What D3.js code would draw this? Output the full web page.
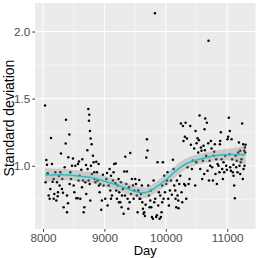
<!DOCTYPE html>
<html>
<head>
<meta charset="utf-8">
<script src="https://cdn.jsdelivr.net/npm/d3@7"></script>
<style>
  body { margin: 0; background: #fff; }
  svg { display: block; }
</style>
</head>
<body>
<figure style="margin:0"></figure>
<script>
const width = 258
const height = 258
const panel = { left: 35, right: 255.5, top: 3, bottom: 229 }

// points (day, standard deviation)
const days = [
  8033, 8054, 8065, 8043, 8076, 8092, 8109, 8130, 8146, 8157, 8174, 8184, 8201, 8217, 8228, 8244, 8260, 8271, 8282, 8293,
  8309, 8326, 8336, 8353, 8369, 8374, 8391, 8407, 8412, 8429, 8434, 8445, 8456, 8472, 8488, 8391, 8315, 8174, 8239, 8119,
  8499, 8510, 8526, 8543, 8564, 8570, 8586, 8597, 8608, 8624, 8640, 8651, 8662, 8673, 8689, 8700, 8722, 8738, 8749, 8754,
  8765, 8776, 8792, 8814, 8727, 8743, 8760, 8781, 8797, 8825, 8841, 8852, 8868, 8879, 8890, 8906, 8922, 8933, 8949, 8960,
  8977, 8987, 8635, 8705, 8580, 8835, 8911, 8770,
  9014, 9031, 9042, 9052, 9069, 9085, 9096, 9107, 9123, 9139, 9150, 9161, 9177, 9183, 9194, 9204, 9215, 9231, 9242, 9259,
  9269, 9286, 9302, 9313, 9324, 9340, 9356, 9367, 9378, 9389, 9400, 9421, 9432, 9448, 9465, 9476, 9486, 9237, 9280, 9107,
  9335, 9411,
  9503, 9514, 9530, 9541, 9552, 9568, 9584, 9595, 9611, 9628, 9638, 9649, 9660, 9671, 9682, 9693, 9703, 9714, 9725, 9736,
  9747, 9758, 9774, 9790, 9801, 9812, 9828, 9844, 9855, 9866, 9877, 9888, 9899, 9910, 9920, 9931, 9942, 9953, 9964, 9975,
  9986, 9823, 9573, 9617, 9763, 9942,
  10007, 10018, 10029, 10040, 10051, 10067, 10083, 10099, 10116, 10127, 10137, 10154, 10170, 10181, 10192, 10208, 10219,
  10235, 10246, 10257, 10268, 10279, 10289, 10300, 10311, 10322, 10333, 10344, 10354, 10371, 10387, 10398, 10409, 10425,
  10441, 10463, 10479, 10485, 10159, 10203, 10317, 10496,
  10501, 10517, 10528, 10539, 10550, 10561, 10572, 10582, 10593, 10615, 10631, 10637, 10642, 10658, 10669, 10680, 10691,
  10696, 10713, 10723, 10734, 10745, 10756, 10767, 10778, 10788, 10799, 10810, 10821, 10832, 10843, 10859, 10875, 10881,
  10886, 10897, 10908, 10919, 10930, 10940, 10951, 10967, 10984, 10995, 10626, 10604, 10702,
  11005, 11016, 11027, 11043, 11049, 11060, 11071, 11081, 11092, 11103, 11114, 11125, 11136, 11147, 11157, 11168, 11179,
  11190, 11201, 11212, 11222, 11233, 11244, 11255, 11260, 11266, 11277, 11288, 11298, 11293, 11282, 11103, 11038, 11212
]
const values = [
  1.449, 1.042, 1.007, 0.877, 0.943, 0.778, 0.753, 1.207, 1.012, 0.881, 0.753, 0.790, 0.951, 0.741, 0.877, 0.802, 0.926, 0.852, 0.951, 1.091,
  0.827, 0.798, 0.691, 0.988, 1.165, 1.343, 0.654, 0.721, 1.064, 1.232, 0.864, 0.951, 0.901, 1.000, 1.054, 0.778, 0.901, 0.901, 0.773, 0.827,
  0.852, 0.802, 1.000, 0.758, 0.758, 1.012, 1.032, 0.926, 0.753, 0.970, 1.049, 0.889, 0.654, 0.691, 0.877, 1.005, 1.116, 1.422, 1.336, 1.380,
  1.259, 1.202, 1.160, 1.074, 0.975, 0.889, 0.864, 1.000, 0.938, 1.025, 0.901, 0.877, 1.030, 0.951, 0.889, 1.012, 0.802, 0.864, 0.672, 0.741,
  0.933, 0.852, 0.840, 0.790, 0.889, 0.951, 0.852, 0.741,
  0.753, 0.901, 0.946, 0.704, 0.852, 0.975, 0.815, 0.926, 0.778, 0.889, 0.951, 1.012, 0.869, 1.017, 0.815, 0.753, 0.852, 0.901, 0.802, 0.728,
  0.877, 0.778, 0.827, 0.642, 0.956, 1.067, 0.864, 0.956, 0.753, 0.679, 0.840, 1.094, 0.790, 0.901, 0.852, 0.753, 0.815, 0.728, 0.691, 0.753,
  0.778, 0.728,
  0.901, 0.864, 0.778, 0.654, 0.815, 0.894, 0.753, 0.790, 0.852, 0.679, 0.642, 0.654, 0.625, 0.709, 1.062, 1.198, 1.114, 0.852, 0.778, 0.691,
  0.741, 0.815, 0.617, 0.605, 0.889, 0.728, 0.753, 0.617, 0.630, 1.025, 0.704, 0.802, 0.605, 0.778, 0.617, 0.654, 0.728, 1.025, 0.753, 0.926,
  0.802, 2.136, 0.753, 0.728, 0.691, 0.852,
  0.864, 0.889, 0.951, 0.753, 0.704, 0.815, 0.889, 0.783, 1.044, 0.975, 0.852, 0.815, 0.691, 0.889, 0.778, 0.684, 0.864,
  0.926, 1.314, 0.802, 0.728, 1.296, 1.185, 0.864, 1.215, 1.321, 0.753, 1.202, 0.988, 0.864, 0.901, 1.296, 1.156, 0.975,
  1.037, 1.128, 0.852, 1.259, 0.753, 0.741, 0.852, 1.025,
  1.168, 1.205, 1.099, 1.190, 1.375, 0.975, 1.136, 1.111, 0.901, 1.148, 1.272, 1.116, 1.351, 1.074, 1.321, 0.963, 1.168,
  1.931, 1.037, 1.000, 1.185, 1.128, 0.988, 0.889, 1.074, 1.104, 1.160, 0.938, 1.049, 0.864, 1.012, 1.000, 0.951, 1.160,
  1.185, 1.249, 1.049, 0.975, 0.901, 1.025, 0.951, 1.074, 1.000, 0.970, 0.938, 1.037, 0.889,
  1.198, 1.215, 1.358, 1.259, 0.988, 0.963, 1.198, 1.049, 0.951, 1.007, 0.852, 0.758, 1.074, 0.988, 1.037, 0.951, 1.099,
  1.173, 1.000, 0.938, 1.025, 1.049, 1.314, 0.901, 1.160, 0.975, 1.111, 1.136, 1.156, 1.099, 1.000, 0.926, 1.086, 1.111
]

// smoothed trend and its confidence half-width
const smoothDays = [8033, 8336, 8499, 8716, 8879, 9150, 9421, 9584, 9693, 9801, 10018, 10235, 10452, 10669, 10886, 11103, 11298]
const smoothValues = [0.931, 0.933, 0.928, 0.916, 0.901, 0.864, 0.822, 0.800, 0.802, 0.827, 0.901, 0.988, 1.037, 1.062, 1.079, 1.084, 1.081]
const smoothSe = [0.05, 0.042, 0.04, 0.04, 0.04, 0.04, 0.04, 0.04, 0.04, 0.04, 0.042, 0.042, 0.04, 0.038, 0.04, 0.048, 0.07]

const xTicks = [8000, 9000, 10000, 11000]
const xMinor = [8500, 9500, 10500, 11500]
const yTicks = [1.0, 1.5, 2.0]
const yMinor = [0.75, 1.25, 1.75]

const points = days.map((d, i) => ({ day: d, sd: values[i] }))
const smooth = smoothDays.map((d, i) => ({ day: d, sd: smoothValues[i], se: smoothSe[i] }))

// ggplot style 5% expansion
const expand = ([a, b]) => [a - (b - a) * 0.05, b + (b - a) * 0.05]

const x = d3.scaleLinear()
  .domain(expand(d3.extent(days)))
  .range([panel.left, panel.right])
const y = d3.scaleLinear()
  .domain(expand(d3.extent(values)))
  .range([panel.bottom, panel.top])

const svg = d3.select('figure').append('svg')
  .attr('width', width)
  .attr('height', height)
  .style('font-family', '"Liberation Sans", Arial, sans-serif')

svg.append('rect')
  .attr('x', panel.left)
  .attr('y', panel.top)
  .attr('width', panel.right - panel.left)
  .attr('height', panel.bottom - panel.top)
  .attr('fill', '#EBEBEB')

const grid = svg.append('g')
const inX = v => x(v) >= panel.left && x(v) <= panel.right

grid.selectAll('.xminor')
  .data(xMinor.filter(inX))
  .join('line')
  .attr('x1', d => x(d)).attr('x2', d => x(d))
  .attr('y1', panel.top).attr('y2', panel.bottom)
  .attr('stroke', '#fff').attr('stroke-width', 0.5)

grid.selectAll('.yminor')
  .data(yMinor)
  .join('line')
  .attr('y1', d => y(d)).attr('y2', d => y(d))
  .attr('x1', panel.left).attr('x2', panel.right)
  .attr('stroke', '#fff').attr('stroke-width', 0.5)

grid.selectAll('.xmajor')
  .data(xTicks)
  .join('line')
  .attr('x1', d => x(d)).attr('x2', d => x(d))
  .attr('y1', panel.top).attr('y2', panel.bottom)
  .attr('stroke', '#fff').attr('stroke-width', 1)

grid.selectAll('.ymajor')
  .data(yTicks)
  .join('line')
  .attr('y1', d => y(d)).attr('y2', d => y(d))
  .attr('x1', panel.left).attr('x2', panel.right)
  .attr('stroke', '#fff').attr('stroke-width', 1)

// points
svg.append('g')
  .selectAll('circle')
  .data(points)
  .join('circle')
  .attr('cx', d => x(d.day))
  .attr('cy', d => y(d.sd))
  .attr('r', 1.25)
  .attr('fill', '#000')

// confidence band + trend line
svg.append('path')
  .datum(smooth)
  .attr('fill', '#999999')
  .attr('fill-opacity', 0.4)
  .attr('d', d3.area()
    .curve(d3.curveNatural)
    .x(d => x(d.day))
    .y0(d => y(d.sd - d.se))
    .y1(d => y(d.sd + d.se)))

svg.append('path')
  .datum(smooth)
  .attr('fill', 'none')
  .attr('stroke', '#22C1C6')
  .attr('stroke-width', 1.5)
  .attr('d', d3.line()
    .curve(d3.curveNatural)
    .x(d => x(d.day))
    .y(d => y(d.sd)))

// axes
const xAxis = svg.append('g')
  .attr('transform', `translate(0,${panel.bottom})`)
  .call(d3.axisBottom(x).tickValues(xTicks).tickSize(2.7).tickPadding(2).tickFormat(d3.format('d')))
const yAxis = svg.append('g')
  .attr('transform', `translate(${panel.left},0)`)
  .call(d3.axisLeft(y).tickValues(yTicks).tickSize(2.7).tickPadding(2).tickFormat(d3.format('.1f')))

for (const ax of [xAxis, yAxis]) {
  ax.select('.domain').remove()
  ax.selectAll('line').attr('stroke', '#333333')
  ax.selectAll('text')
    .attr('fill', '#4D4D4D')
    .style('font-size', '11.7px')
    .style('font-family', '"Liberation Sans", Arial, sans-serif')
}

svg.append('text')
  .attr('x', (panel.left + panel.right) / 2)
  .attr('y', 254.5)
  .attr('text-anchor', 'middle')
  .attr('font-size', 13)
  .attr('fill', '#000')
  .text('Day')

svg.append('text')
  .attr('transform', `translate(14,${(panel.top + panel.bottom) / 2 + 2}) rotate(-90)`)
  .attr('text-anchor', 'middle')
  .attr('font-size', 14)
  .attr('fill', '#000')
  .text('Standard deviation')
</script>
</body>
</html>
